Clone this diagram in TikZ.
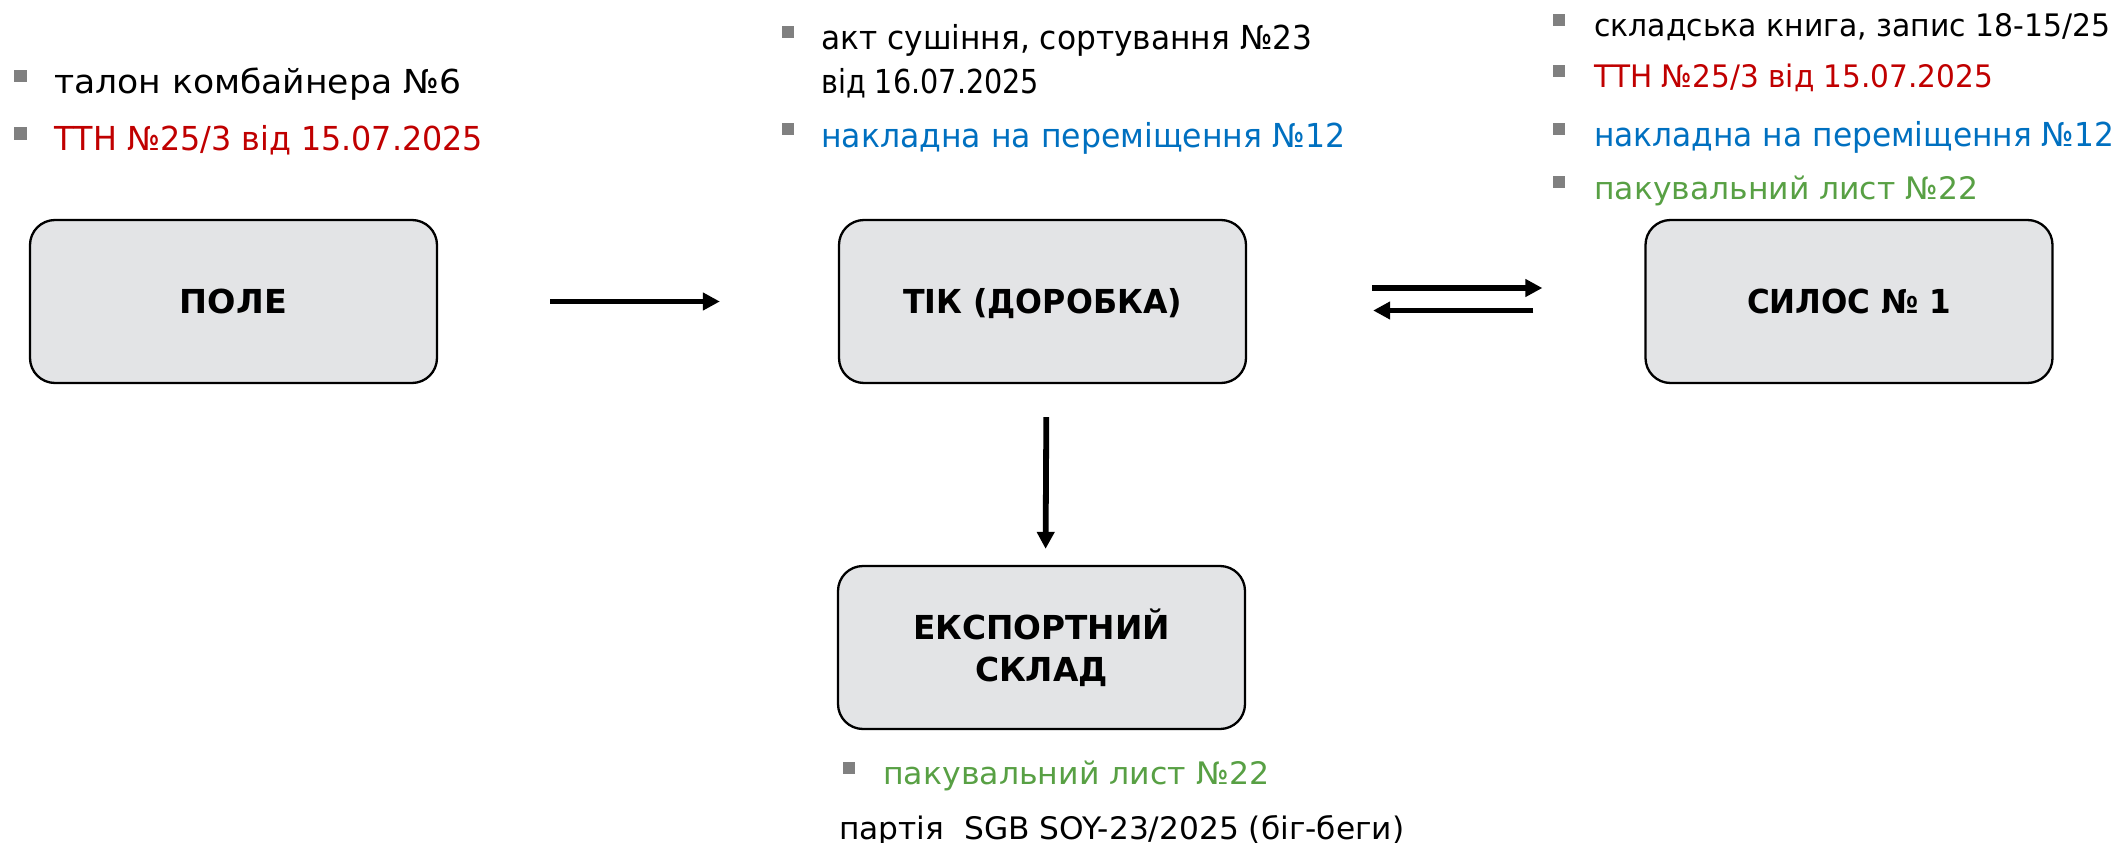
\documentclass[tikz,border=0pt]{standalone}
\usepackage{fontspec}
\setmainfont{DejaVu Sans}
\usetikzlibrary{arrows.meta}
\definecolor{tred}{HTML}{C00000}
\definecolor{tblue}{HTML}{0070C0}
\definecolor{tgreen}{HTML}{58A044}
\definecolor{bulgray}{HTML}{808080}
\definecolor{boxgray}{HTML}{E3E4E6}
\newcommand{\fw}[2]{\resizebox{#1pt}{\height}{#2}}
\begin{document}
\begin{tikzpicture}[x=1pt,y=-1pt,
  box/.style={draw=black,line width=2.3pt,fill=boxgray,rounded corners=25pt,
    minimum width=407pt,minimum height=163pt,inner sep=0pt,align=center,
    font=\bfseries\fontsize{33}{40}\selectfont},
  txt/.style={anchor=base west,inner sep=0pt,font=\fontsize{33}{40}\selectfont},
  txts/.style={txt,font=\fontsize{31}{38}\selectfont},
  bul/.style={rectangle,fill=bulgray,minimum size=12.5pt,inner sep=0pt},
  arr/.style={line width=5.8pt,-{Triangle[length=17pt,width=17pt]}}]
\useasboundingbox (0,0) rectangle (2121,843);
% boxes
\node[box,text height=24pt,text depth=0pt] (pole) at (233.5,301.5) {\fw{107}{ПОЛЕ}};
\node[box,text height=24pt,text depth=0pt] (tik) at (1042.5,301.5) {\fw{279}{ТІК (ДОРОБКА)}};
\node[box,text height=24pt,text depth=0pt] (silos) at (1849,301.5) {\fw{204}{СИЛОС № 1}};
\node[box] (exp) at (1041.5,647.5) {\fw{257}{ЕКСПОРТНИЙ}\\[2pt]\fw{133}{СКЛАД}};
% arrows
\draw[arr,shorten <=112pt,shorten >=118pt] (pole.east) -- (tik.west);
\draw[arr,shorten <=125pt,shorten >=102pt] ([yshift=13.5pt]tik.east) -- ([yshift=13.5pt]silos.west);
\draw[arr,shorten <=111pt,shorten >=126pt] ([yshift=-9pt]silos.west) -- ([yshift=-9pt]tik.east);
\draw[arr,shorten <=33pt,shorten >=16pt] ([xshift=4pt]tik.south) -- ([xshift=4pt]exp.north);
% left texts
\node[bul] (b1) at (20.5,76) {};
\node[txt] (t1) at (54,93) {\fw{407}{талон комбайнера №6}};
\node[bul] (b2) at (20.5,133.5) {};
\node[txt,text=tred] (t2) at (54,150) {\fw{429}{ТТН №25/3 від 15.07.2025}};
% middle texts
\node[bul] (m1) at (788,32) {};
\node[txt] (mt1) at (821,50) {\fw{491}{акт сушіння, сортування №23}};
\node[txt] (mt2) at (821,93) {\fw{218}{від 16.07.2025}};
\node[bul] (m2) at (788,129) {};
\node[txt,text=tblue] (mt3) at (821,147) {\fw{524}{накладна на переміщення №12}};
% right texts
\node[bul] (r1) at (1559,20) {};
\node[txts] (rt1) at (1594,37) {\fw{516}{складська книга, запис 18-15/25}};
\node[bul] (r2) at (1559,71) {};
\node[txts,text=tred] (rt2) at (1594,88) {\fw{399}{ТТН №25/3 від 15.07.2025}};
\node[bul] (r3) at (1559,129) {};
\node[txt,text=tblue] (rt3) at (1594,146) {\fw{520}{накладна на переміщення №12}};
\node[bul] (r4) at (1559,182) {};
\node[txts,text=tgreen] (rt4) at (1594,199) {\fw{384}{пакувальний лист №22}};
% bottom texts
\node[bul] (d1) at (849,768) {};
\node[txts,text=tgreen] (dt1) at (883,784) {\fw{386}{пакувальний лист №22}};
\node[txts] (dt2) at (839,839) {\fw{565}{партія\ \ SGB SOY-23/2025 (біг-беги)}};
\end{tikzpicture}
\end{document}
